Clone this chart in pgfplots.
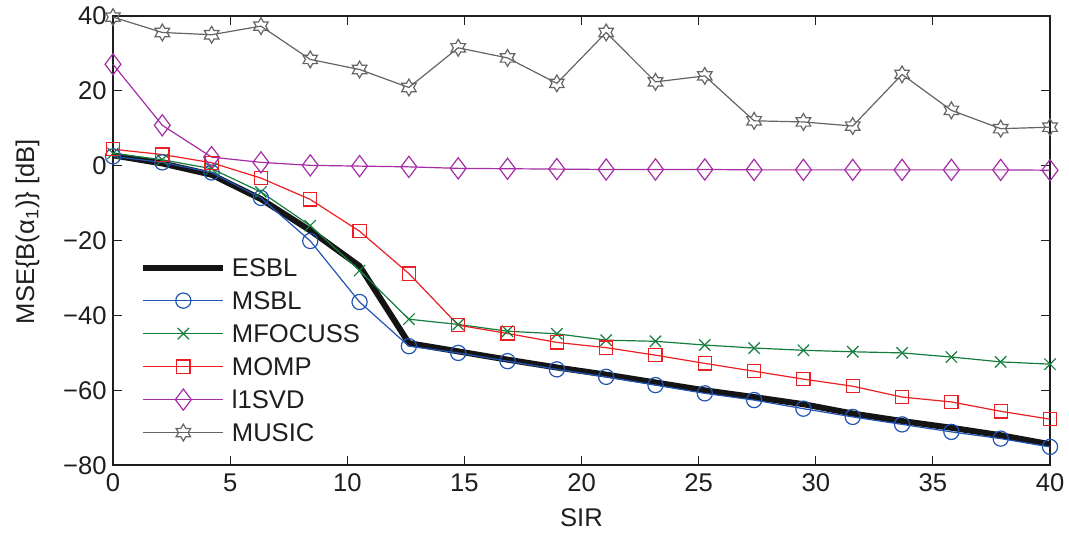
\documentclass[border=0pt]{standalone}
\usepackage{fontspec}
\setmainfont{Liberation Sans}
\usepackage{pgfplots}
\usepackage{pgfplotstable}
\pgfplotsset{compat=1.18}

\definecolor{cESBL}{RGB}{20,20,20}
\definecolor{cMSBL}{RGB}{34,84,180}
\definecolor{cMFOC}{RGB}{20,125,60}
\definecolor{cMOMP}{RGB}{235,30,35}
\definecolor{cL1}{RGB}{165,45,165}
\definecolor{cMUS}{RGB}{100,100,100}
\definecolor{axiscol}{RGB}{30,30,30}

\pgfdeclareplotmark{hexstar}{%
  \pgfpathmoveto{\pgfpointpolar{90}{\pgfplotmarksize}}%
  \pgfpathlineto{\pgfpointpolar{120}{0.577\pgfplotmarksize}}%
  \pgfpathlineto{\pgfpointpolar{150}{\pgfplotmarksize}}%
  \pgfpathlineto{\pgfpointpolar{180}{0.577\pgfplotmarksize}}%
  \pgfpathlineto{\pgfpointpolar{210}{\pgfplotmarksize}}%
  \pgfpathlineto{\pgfpointpolar{240}{0.577\pgfplotmarksize}}%
  \pgfpathlineto{\pgfpointpolar{270}{\pgfplotmarksize}}%
  \pgfpathlineto{\pgfpointpolar{300}{0.577\pgfplotmarksize}}%
  \pgfpathlineto{\pgfpointpolar{330}{\pgfplotmarksize}}%
  \pgfpathlineto{\pgfpointpolar{0}{0.577\pgfplotmarksize}}%
  \pgfpathlineto{\pgfpointpolar{30}{\pgfplotmarksize}}%
  \pgfpathlineto{\pgfpointpolar{60}{0.577\pgfplotmarksize}}%
  \pgfpathclose
  \pgfusepathqstroke
}

\pgfplotstableread{
x       esbl   msbl   mfoc   momp   lsvd   music
0       2.8    2.5    3.3    4.4    27.1   39.7
2.1053  0.6    0.9    1.6    3.0    10.8   35.6
4.2105  -2.4   -1.8   -0.8   0.8    2.3    35.0
6.3158  -8.9   -8.6   -7.0   -3.3   0.9    37.3
8.4211  -17.3  -20.1  -16.0  -9.0   0.1    28.4
10.5263 -26.8  -36.4  -28.0  -17.5  -0.1   25.7
12.6316 -47.4  -48.2  -41.0  -28.8  -0.3   20.9
14.7368 -49.6  -50.0  -42.4  -42.6  -0.7   31.5
16.8421 -51.8  -52.2  -44.2  -44.8  -0.8   28.8
18.9474 -53.9  -54.4  -44.9  -47.2  -0.9   22.0
21.0526 -55.8  -56.4  -46.6  -48.6  -1.0   35.6
23.1579 -57.9  -58.6  -46.9  -50.6  -1.0   22.4
25.2632 -60.0  -60.8  -47.9  -52.8  -1.0   24.0
27.3684 -61.8  -62.6  -48.7  -54.9  -1.1   12.0
29.4737 -63.7  -64.9  -49.3  -57.0  -1.1   11.7
31.5789 -66.2  -67.1  -49.7  -58.9  -1.1   10.6
33.6842 -68.2  -69.1  -50.0  -61.8  -1.1   24.4
35.7895 -70.0  -71.1  -51.1  -63.1  -1.1   14.8
37.8947 -72.0  -72.9  -52.4  -65.6  -1.1   9.9
40      -74.4  -75.1  -53.0  -67.7  -1.2   10.3
}\datatable

\begin{document}
\fontsize{12.5}{15}\selectfont
\begin{tikzpicture}
\begin{axis}[
  scale only axis,
  width=468.5pt, height=224.6pt,
  xmin=0, xmax=40, ymin=-80, ymax=40,
  xtick={0,5,...,40},
  ytick={-80,-60,-40,-20,0,20,40},
  yticklabels={−80,−60,−40,−20,0,20,40},
  tick align=inside,
  major tick length=4.5pt,
  axis line style={line width=0.9pt, color=axiscol},
  every tick/.style={line width=0.6pt, color=axiscol},
  ticklabel style={font=\fontsize{12.8}{15}\selectfont, text=axiscol},
  yticklabel style={inner xsep=3pt},
  /pgf/number format/assume math mode=true,
  xlabel={SIR},
  ylabel={MSE\{B(α\textsubscript{1})\} [dB]},
  xlabel style={font=\fontsize{12.8}{15}\selectfont, text=axiscol, at={(axis description cs:0.5,-0.095)}, anchor=north, inner sep=0pt},
  ylabel style={font=\fontsize{12.8}{15}\selectfont, text=axiscol, at={(axis description cs:-0.078,0.52)}, anchor=south, inner sep=0pt},
  clip=false,
  legend image code/.code={%
    \draw[mark repeat=2,mark phase=2] plot coordinates {(0pt,0pt) (20pt,0pt) (40pt,0pt)};},
  legend style={draw=none, fill=none, inner sep=0pt,
    at={(axis cs:1.15,-22.7)}, anchor=north west,
    font=\fontsize{12.8}{15}\selectfont, text=axiscol,
    nodes={text height=9pt, text depth=0pt, inner ysep=3.75pt, inner xsep=2.8pt},
    row sep=0pt},
  legend cell align=left,
]
\addplot[cESBL, line width=3pt, no markers] table[x=x,y=esbl] {\datatable};
\addlegendentry{ESBL}
\addplot[cMSBL, line width=0.6pt, mark=o, mark size=3.8pt, mark options={solid, line width=0.6pt}] table[x=x,y=msbl] {\datatable};
\addlegendentry{MSBL}
\addplot[cMFOC, line width=0.6pt, mark=x, mark size=4pt, mark options={solid, line width=0.6pt}] table[x=x,y=mfoc] {\datatable};
\addlegendentry{MFOCUSS}
\addplot[cMOMP, line width=0.6pt, mark=square, mark size=3.3pt, mark options={solid, line width=0.6pt}] table[x=x,y=momp] {\datatable};
\addlegendentry{MOMP}
\addplot[cL1, line width=0.6pt, mark=diamond, mark size=5.3pt, mark options={solid, line width=0.6pt}] table[x=x,y=lsvd] {\datatable};
\addlegendentry{l1SVD}
\addplot[cMUS, line width=0.6pt, mark=hexstar, mark size=4.2pt, mark options={solid, line width=0.6pt}] table[x=x,y=music] {\datatable};
\addlegendentry{MUSIC}
\end{axis}
\pgfresetboundingbox
\path[use as bounding box] ([shift={(-56.5pt,-35pt)}]current axis.south west) rectangle ([shift={(9.5pt,8pt)}]current axis.north east);
\end{tikzpicture}
\end{document}
